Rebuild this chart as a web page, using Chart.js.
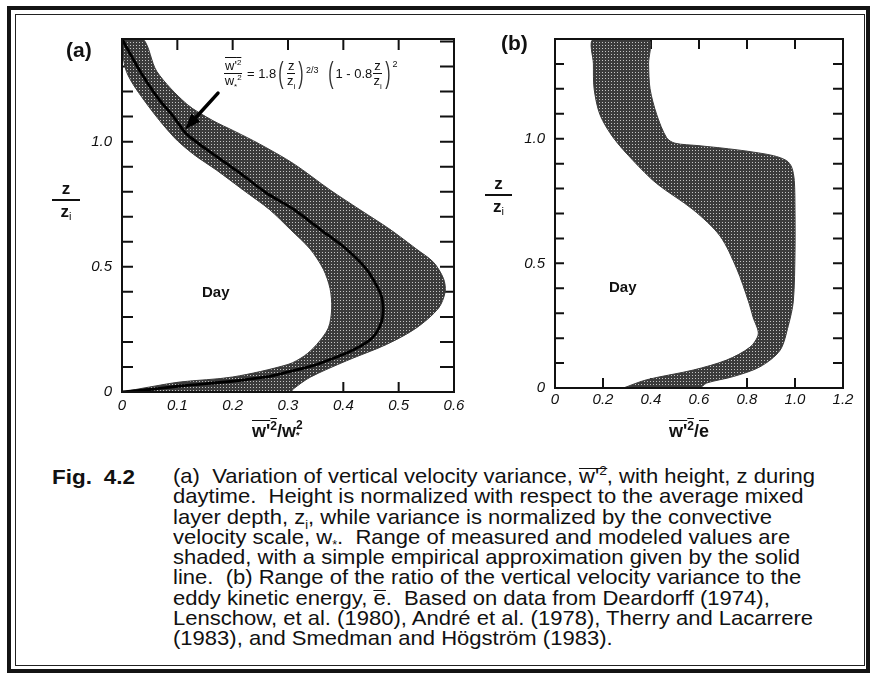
<!DOCTYPE html>
<html>
<head>
<meta charset="utf-8">
<script src="https://cdn.jsdelivr.net/npm/chart.js@4.4.1/dist/chart.umd.min.js"></script>
<style>
html,body{margin:0;padding:0;background:#fff;}
body{width:871px;height:677px;position:relative;overflow:hidden;font-family:'Liberation Sans',Arial,sans-serif;color:#111;}
.abs{position:absolute;white-space:nowrap;}
#frameOuter{left:7px;top:6px;width:863px;height:667px;border:4px solid #141414;box-sizing:border-box;}
#frameInner{left:15px;top:14px;width:850px;height:652px;border:1.5px solid #222;box-sizing:border-box;}
canvas{position:absolute;}
#cA{left:60px;top:20px;}
#cB{left:490px;top:20px;}
.panel{font-weight:bold;font-size:21px;}
.day{font-weight:bold;font-size:15px;}
.yt{text-align:center;font-weight:bold;font-size:17px;line-height:17px;}
.yt .bar{height:2px;background:#111;margin:2px 0;}
.yt .sub{font-weight:normal;font-size:11px;position:relative;top:3px;}
.xt{font-weight:bold;font-size:18px;line-height:20px;}
.ov{text-decoration:overline;}
sup,sub{line-height:0;}
.xt sup{font-size:12px;}
.ss{display:inline-flex;flex-direction:column;vertical-align:middle;font-size:11px;line-height:10px;position:relative;top:-2px;}
.ss sup,.ss sub{line-height:10px;vertical-align:baseline;}
#eq{display:flex;align-items:center;font-size:13px;}
.frac{display:inline-flex;flex-direction:column;align-items:center;line-height:14px;margin:0 1px;}
.frac .num{border-bottom:1.2px solid #111;padding:0 1px;}
.frac sub{font-size:8px;}
.big{font-size:29px;font-weight:normal;transform:scaleX(0.55);display:inline-block;line-height:29px;color:#333;}
.exp{font-size:9px;align-self:flex-start;margin-top:6px;}
#fig{left:52px;top:467px;font-weight:bold;font-size:20px;line-height:20.3px;word-spacing:5px;}
#cap{left:173px;top:466px;font-size:21px;line-height:20.3px;transform-origin:0 0;}
#cap div{white-space:pre;}
#cap sup{font-size:13px;}
#cap sub{font-size:12px;}
.obar{display:inline-block;border-top:1.5px solid #111;line-height:14px;}
</style>
</head>
<body>
<div id="frameOuter" class="abs"></div>
<div id="frameInner" class="abs"></div>

<canvas id="cA" width="420" height="420"></canvas>
<canvas id="cB" width="376" height="420"></canvas>

<div class="abs panel" style="left:66px;top:38px;">(a)</div>
<div class="abs panel" style="left:501px;top:31px;">(b)</div>
<div class="abs day" style="left:202px;top:283px;">Day</div>
<div class="abs day" style="left:609px;top:278px;">Day</div>

<div class="abs yt" style="left:52px;top:180px;width:28px;"><div>z</div><div class="bar"></div><div>z<span class="sub">i</span></div></div>
<div class="abs yt" style="left:485px;top:175px;width:27px;"><div>z</div><div class="bar"></div><div>z<span class="sub">i</span></div></div>

<div class="abs xt" style="left:252px;top:421px;"><span class="ov">w'<sup>2</sup></span>/w<span class="ss"><sup>2</sup><sub>*</sub></span></div>
<div class="abs xt" style="left:669px;top:421px;"><span class="ov">w'<sup>2</sup></span>/<span class="ov">e</span></div>

<div id="eq" class="abs" style="left:223px;top:59px;">
  <span class="frac"><span class="num"><span class="ov">w'<sup style="font-size:8px">2</sup></span></span><span>w<sub style="font-size:8px">*</sub><sup style="font-size:8px">2</sup></span></span>
  <span>&nbsp;=&nbsp;1.8</span>
  <span class="big">(</span><span class="frac"><span class="num">z</span><span>z<sub>i</sub></span></span><span class="big">)</span><span class="exp">2/3</span>
  <span>&nbsp;&nbsp;</span>
  <span class="big">(</span><span>1 - 0.8</span><span class="frac"><span class="num">z</span><span>z<sub>i</sub></span></span><span class="big">)</span><span class="exp" style="margin-top:0">2</span>
</div>

<div id="fig" class="abs">Fig. 4.2</div>
<div id="cap" class="abs">
<div>(a)  Variation of vertical velocity variance, <span class="obar">w'<sup>2</sup></span>, with height, z during</div>
<div>daytime.  Height is normalized with respect to the average mixed</div>
<div>layer depth, z<sub>i</sub>, while variance is normalized by the convective</div>
<div>velocity scale, w<sub>*</sub>.  Range of measured and modeled values are</div>
<div>shaded, with a simple empirical approximation given by the solid</div>
<div>line.  (b) Range of the ratio of the vertical velocity variance to the</div>
<div>eddy kinetic energy, <span class="obar">e</span>.  Based on data from Deardorff (1974),</div>
<div id="capRef">Lenschow, et al. (1980), André et al. (1978), Therry and Lacarrere</div>
<div>(1983), and Smedman and Högström (1983).</div>
</div>

<script>
// ---------- DATA ----------
// Panel (a): normalized vertical velocity variance w'^2/w*^2 vs z/zi
const aInnerX = [0, 0.05, 0.105, 0.20, 0.30, 0.33, 0.352, 0.373, 0.379, 0.376, 0.364, 0.34, 0.304, 0.267, 0.219, 0.171, 0.129, 0.093, 0.045, 0.008, 0];
const aInnerZ = [0, 0.02, 0.04, 0.06, 0.11, 0.145, 0.19, 0.256, 0.335, 0.413, 0.49, 0.571, 0.65, 0.728, 0.807, 0.886, 0.95, 1.02, 1.15, 1.28, 1.41];
const aOuterX = [0.038, 0.063, 0.117, 0.165, 0.202, 0.249, 0.31, 0.376, 0.43, 0.484, 0.532, 0.563, 0.581, 0.584, 0.572, 0.532, 0.478, 0.406, 0.34, 0.31, 0.304];
const aOuterZ = [1.41, 1.28, 1.15, 1.083, 1.043, 0.99, 0.912, 0.807, 0.728, 0.65, 0.571, 0.518, 0.453, 0.40, 0.335, 0.256, 0.19, 0.125, 0.059, 0.013, 0];
const aLineX = [0, 0.05, 0.105, 0.20, 0.26, 0.298, 0.345, 0.381, 0.412, 0.436, 0.452, 0.462, 0.469, 0.472, 0.471, 0.466, 0.442, 0.406, 0.358, 0.31, 0.261, 0.213, 0.165, 0.117, 0.093, 0.063, 0.033, 0];
const aLineZ = [0, 0.01, 0.024, 0.043, 0.06, 0.079, 0.105, 0.134, 0.162, 0.19, 0.216, 0.245, 0.28, 0.32, 0.36, 0.40, 0.49, 0.57, 0.65, 0.73, 0.795, 0.875, 0.95, 1.03, 1.10, 1.18, 1.28, 1.41];
const aArrowFrom = [0.1735, 1.194];
const aArrowTo = [0.114, 1.049];

// Panel (b): w'^2 / e vs z/zi
const bInnerX = [0.285, 0.382, 0.576, 0.715, 0.8125, 0.847, 0.826, 0.806, 0.757, 0.6875, 0.576, 0.424, 0.326, 0.243, 0.1875, 0.163, 0.16, 0.16];
const bInnerZ = [0, 0.033, 0.072, 0.112, 0.164, 0.217, 0.282, 0.348, 0.479, 0.61, 0.715, 0.82, 0.912, 1.004, 1.096, 1.2, 1.3, 1.4];
const bOuterX = [0.389, 0.39, 0.396, 0.424, 0.465, 0.50, 0.60, 0.70, 0.80, 0.91, 0.965, 0.986, 0.997, 1.0, 1.0, 0.993, 0.972, 0.9375, 0.854, 0.743, 0.632, 0.60];
const bOuterZ = [1.4, 1.3, 1.2, 1.096, 1.004, 0.982, 0.972, 0.962, 0.95, 0.932, 0.912, 0.886, 0.833, 0.715, 0.545, 0.348, 0.25, 0.151, 0.085, 0.046, 0.02, 0];

// Tick labels
const aXTickValues = [0, 0.1, 0.2, 0.3, 0.4, 0.5, 0.6];
const aXTickLabels = ['0', '0.1', '0.2', '0.3', '0.4', '0.5', '0.6'];
const bXTickValues = [0, 0.2, 0.4, 0.6, 0.8, 1.0, 1.2];
const bXTickLabels = ['0', '0.2', '0.4', '0.6', '0.8', '1.0', '1.2'];
const zTickValues = [0, 0.5, 1.0];
const zTickLabels = ['0', '0.5', '1.0'];

// ---------- helpers ----------
const zip = (xs, ys) => xs.map((x, i) => ({x: x, y: ys[i]}));
const bandA = zip(aInnerX, aInnerZ).concat(zip(aOuterX, aOuterZ), [{x: aInnerX[0], y: aInnerZ[0]}]);
const lineA = zip(aLineX, aLineZ);
const bandB = zip(bInnerX, bInnerZ).concat(zip(bOuterX, bOuterZ), [{x: bInnerX[0], y: bInnerZ[0]}]);

function lab(v, vals, labels) {
  const i = vals.findIndex(t => Math.abs(t - v) < 1e-6);
  return i >= 0 ? labels[i] : '';
}

function makePattern() {
  const c = document.createElement('canvas');
  c.width = 3; c.height = 3;
  const g = c.getContext('2d');
  g.fillStyle = '#3b3b3b'; g.fillRect(0, 0, 3, 3);
  g.fillStyle = '#c4c4c4'; g.fillRect(1, 1, 1, 1);
  return g.createPattern(c, 'repeat');
}
const shade = makePattern();

const frameTicks = {
  id: 'frameTicks',
  beforeDatasetsDraw(chart, args, o) {
    const {ctx, chartArea: a, scales: {x, y}} = chart;
    ctx.save();
    ctx.strokeStyle = '#111';
    ctx.lineWidth = o.tickWidth;
    ctx.beginPath();
    x.ticks.forEach(t => {
      const p = x.getPixelForValue(t.value);
      ctx.moveTo(p, a.bottom); ctx.lineTo(p, a.bottom - o.bottom);
      ctx.moveTo(p, a.top); ctx.lineTo(p, a.top + o.top);
    });
    y.ticks.forEach(t => {
      const p = y.getPixelForValue(t.value);
      ctx.moveTo(a.left, p); ctx.lineTo(a.left + o.left, p);
      ctx.moveTo(a.right, p); ctx.lineTo(a.right - o.right, p);
    });
    ctx.stroke();
    ctx.restore();
  },
  afterDatasetsDraw(chart, args, o) {
    const {ctx, chartArea: a} = chart;
    ctx.save();
    ctx.strokeStyle = '#111';
    ctx.lineWidth = o.frameWidth;
    ctx.strokeRect(a.left, a.top, a.right - a.left, a.bottom - a.top);
    ctx.restore();
  }
};

const arrowPlugin = {
  id: 'arrow',
  afterDatasetsDraw(chart, args, o) {
    if (!o.from) return;
    const {ctx, scales: {x, y}} = chart;
    const x0 = x.getPixelForValue(o.from[0]), y0 = y.getPixelForValue(o.from[1]);
    const x1 = x.getPixelForValue(o.to[0]), y1 = y.getPixelForValue(o.to[1]);
    const ang = Math.atan2(y1 - y0, x1 - x0);
    const hl = 16, hw = 6;
    const bx = x1 - hl * Math.cos(ang), by = y1 - hl * Math.sin(ang);
    ctx.save();
    ctx.strokeStyle = '#000'; ctx.fillStyle = '#000';
    ctx.lineWidth = 3.5; ctx.lineCap = 'round';
    ctx.beginPath(); ctx.moveTo(x0, y0); ctx.lineTo(bx, by); ctx.stroke();
    ctx.beginPath();
    ctx.moveTo(x1, y1);
    ctx.lineTo(bx + hw * Math.sin(ang), by - hw * Math.cos(ang));
    ctx.lineTo(bx - hw * Math.sin(ang), by + hw * Math.cos(ang));
    ctx.closePath(); ctx.fill();
    ctx.restore();
  }
};

const tickFont = {family: "'Liberation Sans', Arial, sans-serif", size: 15, style: 'italic'};

function axisX(min, max, step, vals, labels, h, pad) {
  return {
    type: 'linear', min: min, max: max,
    afterFit(s) { s.height = h; },
    grid: {display: false, drawTicks: false},
    border: {display: false},
    ticks: {stepSize: step, autoSkip: false, maxRotation: 0, includeBounds: false, padding: pad, color: '#111', font: tickFont,
      callback: v => lab(v, vals, labels)}
  };
}
function axisY(max, w) {
  return {
    type: 'linear', min: 0, max: max,
    afterFit(s) { s.width = w; },
    grid: {display: false, drawTicks: false},
    border: {display: false},
    ticks: {stepSize: 0.1, autoSkip: false, includeBounds: false, padding: 10, color: '#111', font: tickFont,
      callback: v => lab(v, zTickValues, zTickLabels)}
  };
}

new Chart(document.getElementById('cA'), {
  type: 'line',
  data: {datasets: [
    {label: 'Measured/modeled range', data: bandA, order: 1, fill: 'shape', backgroundColor: shade, borderColor: '#3a3a3a', borderWidth: 1, pointRadius: 0, tension: 0.3},
    {label: 'Empirical approximation', data: lineA, order: 0, fill: false, borderColor: '#000', borderWidth: 2.8, pointRadius: 0, tension: 0.3}
  ]},
  options: {
    responsive: false, animation: false, events: [],
    layout: {padding: {top: 13, right: 26, left: 0, bottom: 0}},
    plugins: {legend: {display: false}, tooltip: {enabled: false},
      frameTicks: {tickWidth: 2, left: 11, right: 14, top: 11, bottom: 10, frameWidth: 2},
      arrow: {from: aArrowFrom, to: aArrowTo}},
    scales: {x: axisX(0, 0.6, 0.1, aXTickValues, aXTickLabels, 48, 5), y: axisY(1.41, 62)}
  },
  plugins: [frameTicks, arrowPlugin]
});

new Chart(document.getElementById('cB'), {
  type: 'line',
  data: {datasets: [
    {label: 'Range', data: bandB, fill: 'shape', backgroundColor: shade, borderColor: '#3a3a3a', borderWidth: 1, pointRadius: 0, tension: 0.3}
  ]},
  options: {
    responsive: false, animation: false, events: [],
    layout: {padding: {top: 12, right: 23, left: 0, bottom: 0}},
    plugins: {legend: {display: false}, tooltip: {enabled: false},
      frameTicks: {tickWidth: 2, left: 9, right: 10, top: 10, bottom: 10, frameWidth: 2}},
    scales: {x: axisX(0, 1.2, 0.2, bXTickValues, bXTickLabels, 52, 3), y: axisY(1.4, 65)}
  },
  plugins: [frameTicks]
});

// fit condensed caption width
(function () {
  const cap = document.getElementById('cap');
  const ref = document.getElementById('capRef');
  const w = ref.scrollWidth;
  const k = 642 / w;
  cap.style.transform = 'scaleX(' + k + ')';
  const fig = document.getElementById('fig');
  const fk = 83 / fig.scrollWidth;
  fig.style.transformOrigin = '0 0';
  fig.style.transform = 'scaleX(' + fk + ')';
})();
</script>
</body>
</html>
